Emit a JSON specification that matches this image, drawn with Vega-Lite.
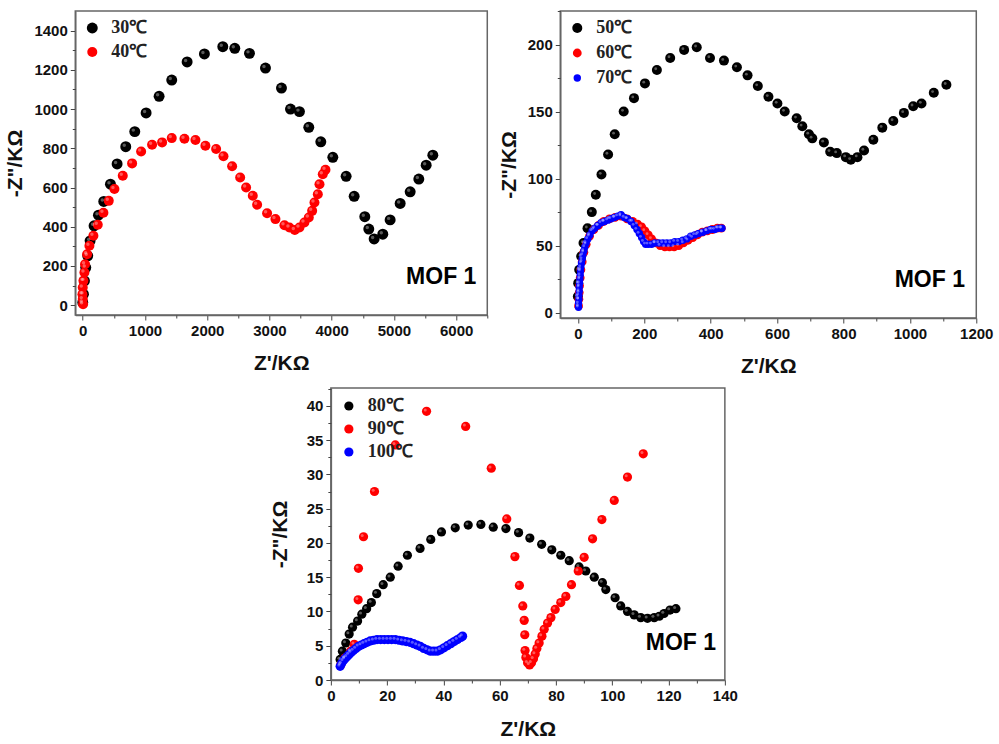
{
  "$schema": "https://vega.github.io/schema/vega-lite/v6.json",
  "padding": {"left": 4, "top": 9, "right": 0, "bottom": 0},
  "background": "white",
  "datasets": {
    "p1": [
      {"series": "30℃", "x": 0, "y": 14}, {"series": "30℃", "x": 11, "y": 56}, {"series": "30℃", "x": 27, "y": 124}, {"series": "30℃", "x": 48, "y": 192}, {"series": "30℃", "x": 80, "y": 252}, {"series": "30℃", "x": 118, "y": 328}, {"series": "30℃", "x": 182, "y": 405}, {"series": "30℃", "x": 252, "y": 459}, {"series": "30℃", "x": 338, "y": 529}, {"series": "30℃", "x": 445, "y": 617}, {"series": "30℃", "x": 552, "y": 720}, {"series": "30℃", "x": 691, "y": 808}, {"series": "30℃", "x": 836, "y": 885}, {"series": "30℃", "x": 1018, "y": 980}, {"series": "30℃", "x": 1227, "y": 1065}, {"series": "30℃", "x": 1430, "y": 1148}, {"series": "30℃", "x": 1677, "y": 1240}, {"series": "30℃", "x": 1955, "y": 1281}, {"series": "30℃", "x": 2250, "y": 1318}, {"series": "30℃", "x": 2443, "y": 1310}, {"series": "30℃", "x": 2679, "y": 1284}, {"series": "30℃", "x": 2936, "y": 1209}, {"series": "30℃", "x": 3193, "y": 1107}, {"series": "30℃", "x": 3338, "y": 1000}, {"series": "30℃", "x": 3482, "y": 987}, {"series": "30℃", "x": 3632, "y": 907}, {"series": "30℃", "x": 3825, "y": 833}, {"series": "30℃", "x": 4018, "y": 754}, {"series": "30℃", "x": 4232, "y": 657}, {"series": "30℃", "x": 4361, "y": 555}, {"series": "30℃", "x": 4532, "y": 451}, {"series": "30℃", "x": 4596, "y": 388}, {"series": "30℃", "x": 4682, "y": 338}, {"series": "30℃", "x": 4821, "y": 362}, {"series": "30℃", "x": 4939, "y": 435}, {"series": "30℃", "x": 5100, "y": 519}, {"series": "30℃", "x": 5261, "y": 578}, {"series": "30℃", "x": 5400, "y": 643}, {"series": "30℃", "x": 5518, "y": 714}, {"series": "30℃", "x": 5625, "y": 765},
      {"series": "40℃", "x": 5, "y": 5}, {"series": "40℃", "x": 0, "y": 31}, {"series": "40℃", "x": -5, "y": 56}, {"series": "40℃", "x": 0, "y": 90}, {"series": "40℃", "x": 11, "y": 124}, {"series": "40℃", "x": 27, "y": 167}, {"series": "40℃", "x": 37, "y": 209}, {"series": "40℃", "x": 70, "y": 260}, {"series": "40℃", "x": 107, "y": 303}, {"series": "40℃", "x": 171, "y": 354}, {"series": "40℃", "x": 241, "y": 410}, {"series": "40℃", "x": 332, "y": 471}, {"series": "40℃", "x": 418, "y": 532}, {"series": "40℃", "x": 509, "y": 592}, {"series": "40℃", "x": 643, "y": 660}, {"series": "40℃", "x": 793, "y": 723}, {"series": "40℃", "x": 938, "y": 784}, {"series": "40℃", "x": 1114, "y": 818}, {"series": "40℃", "x": 1275, "y": 830}, {"series": "40℃", "x": 1430, "y": 852}, {"series": "40℃", "x": 1634, "y": 849}, {"series": "40℃", "x": 1811, "y": 842}, {"series": "40℃", "x": 1971, "y": 813}, {"series": "40℃", "x": 2143, "y": 796}, {"series": "40℃", "x": 2261, "y": 759}, {"series": "40℃", "x": 2400, "y": 708}, {"series": "40℃", "x": 2529, "y": 651}, {"series": "40℃", "x": 2625, "y": 600}, {"series": "40℃", "x": 2732, "y": 558}, {"series": "40℃", "x": 2802, "y": 512}, {"series": "40℃", "x": 2962, "y": 469}, {"series": "40℃", "x": 3096, "y": 439}, {"series": "40℃", "x": 3241, "y": 408}, {"series": "40℃", "x": 3321, "y": 396}, {"series": "40℃", "x": 3407, "y": 383}, {"series": "40℃", "x": 3482, "y": 396}, {"series": "40℃", "x": 3562, "y": 422}, {"series": "40℃", "x": 3632, "y": 447}, {"series": "40℃", "x": 3686, "y": 481}, {"series": "40℃", "x": 3723, "y": 524}, {"series": "40℃", "x": 3777, "y": 566}, {"series": "40℃", "x": 3804, "y": 617}, {"series": "40℃", "x": 3857, "y": 668}, {"series": "40℃", "x": 3900, "y": 691}
    ],
    "p2": [
      {"series": "50℃", "x": 0, "y": 12}, {"series": "50℃", "x": 1, "y": 22}, {"series": "50℃", "x": 4, "y": 32}, {"series": "50℃", "x": 10, "y": 42}, {"series": "50℃", "x": 17, "y": 52}, {"series": "50℃", "x": 29, "y": 63}, {"series": "50℃", "x": 42, "y": 75}, {"series": "50℃", "x": 54, "y": 88}, {"series": "50℃", "x": 71, "y": 103}, {"series": "50℃", "x": 91, "y": 118}, {"series": "50℃", "x": 111, "y": 133}, {"series": "50℃", "x": 138, "y": 150}, {"series": "50℃", "x": 169, "y": 160}, {"series": "50℃", "x": 202, "y": 171}, {"series": "50℃", "x": 238, "y": 181}, {"series": "50℃", "x": 278, "y": 190}, {"series": "50℃", "x": 320, "y": 196}, {"series": "50℃", "x": 358, "y": 198}, {"series": "50℃", "x": 398, "y": 190}, {"series": "50℃", "x": 440, "y": 188}, {"series": "50℃", "x": 479, "y": 183}, {"series": "50℃", "x": 511, "y": 177}, {"series": "50℃", "x": 542, "y": 169}, {"series": "50℃", "x": 574, "y": 161}, {"series": "50℃", "x": 601, "y": 156}, {"series": "50℃", "x": 623, "y": 150}, {"series": "50℃", "x": 659, "y": 145}, {"series": "50℃", "x": 676, "y": 139}, {"series": "50℃", "x": 696, "y": 133}, {"series": "50℃", "x": 706, "y": 130}, {"series": "50℃", "x": 741, "y": 127}, {"series": "50℃", "x": 760, "y": 120}, {"series": "50℃", "x": 780, "y": 119}, {"series": "50℃", "x": 807, "y": 116}, {"series": "50℃", "x": 822, "y": 114}, {"series": "50℃", "x": 842, "y": 116}, {"series": "50℃", "x": 862, "y": 121}, {"series": "50℃", "x": 890, "y": 129}, {"series": "50℃", "x": 917, "y": 138}, {"series": "50℃", "x": 950, "y": 143}, {"series": "50℃", "x": 982, "y": 149}, {"series": "50℃", "x": 1010, "y": 154}, {"series": "50℃", "x": 1035, "y": 156}, {"series": "50℃", "x": 1072, "y": 164}, {"series": "50℃", "x": 1110, "y": 170},
      {"series": "60℃", "x": 2, "y": 5}, {"series": "60℃", "x": 3, "y": 10}, {"series": "60℃", "x": 4, "y": 15}, {"series": "60℃", "x": 5, "y": 20}, {"series": "60℃", "x": 7, "y": 26}, {"series": "60℃", "x": 9, "y": 32}, {"series": "60℃", "x": 13, "y": 38}, {"series": "60℃", "x": 18, "y": 45}, {"series": "60℃", "x": 25, "y": 51}, {"series": "60℃", "x": 35, "y": 57}, {"series": "60℃", "x": 48, "y": 62}, {"series": "60℃", "x": 62, "y": 65}, {"series": "60℃", "x": 78, "y": 68}, {"series": "60℃", "x": 95, "y": 70}, {"series": "60℃", "x": 112, "y": 71}, {"series": "60℃", "x": 130, "y": 72}, {"series": "60℃", "x": 148, "y": 70}, {"series": "60℃", "x": 165, "y": 68}, {"series": "60℃", "x": 180, "y": 66}, {"series": "60℃", "x": 192, "y": 64}, {"series": "60℃", "x": 202, "y": 61}, {"series": "60℃", "x": 212, "y": 58}, {"series": "60℃", "x": 222, "y": 55}, {"series": "60℃", "x": 234, "y": 52}, {"series": "60℃", "x": 248, "y": 50}, {"series": "60℃", "x": 262, "y": 49}, {"series": "60℃", "x": 276, "y": 49}, {"series": "60℃", "x": 290, "y": 49}, {"series": "60℃", "x": 304, "y": 50}, {"series": "60℃", "x": 318, "y": 52}, {"series": "60℃", "x": 332, "y": 54}, {"series": "60℃", "x": 346, "y": 56}, {"series": "60℃", "x": 360, "y": 58}, {"series": "60℃", "x": 375, "y": 60}, {"series": "60℃", "x": 390, "y": 61}, {"series": "60℃", "x": 405, "y": 62}, {"series": "60℃", "x": 420, "y": 63}, {"series": "60℃", "x": 432, "y": 63},
      {"series": "70℃", "x": 2, "y": 4}, {"series": "70℃", "x": 2, "y": 7}, {"series": "70℃", "x": 3, "y": 10}, {"series": "70℃", "x": 3, "y": 13}, {"series": "70℃", "x": 4, "y": 16}, {"series": "70℃", "x": 4, "y": 19}, {"series": "70℃", "x": 5, "y": 22}, {"series": "70℃", "x": 6, "y": 25}, {"series": "70℃", "x": 7, "y": 28}, {"series": "70℃", "x": 8, "y": 31}, {"series": "70℃", "x": 9, "y": 34}, {"series": "70℃", "x": 11, "y": 37}, {"series": "70℃", "x": 13, "y": 40}, {"series": "70℃", "x": 15, "y": 43}, {"series": "70℃", "x": 18, "y": 46}, {"series": "70℃", "x": 21, "y": 49}, {"series": "70℃", "x": 25, "y": 52}, {"series": "70℃", "x": 30, "y": 55}, {"series": "70℃", "x": 36, "y": 58}, {"series": "70℃", "x": 43, "y": 61}, {"series": "70℃", "x": 51, "y": 63}, {"series": "70℃", "x": 60, "y": 65}, {"series": "70℃", "x": 70, "y": 67}, {"series": "70℃", "x": 80, "y": 68}, {"series": "70℃", "x": 90, "y": 69}, {"series": "70℃", "x": 100, "y": 70}, {"series": "70℃", "x": 110, "y": 71}, {"series": "70℃", "x": 120, "y": 72}, {"series": "70℃", "x": 130, "y": 73}, {"series": "70℃", "x": 140, "y": 71}, {"series": "70℃", "x": 150, "y": 70}, {"series": "70℃", "x": 160, "y": 68}, {"series": "70℃", "x": 170, "y": 65}, {"series": "70℃", "x": 178, "y": 62}, {"series": "70℃", "x": 185, "y": 59}, {"series": "70℃", "x": 192, "y": 56}, {"series": "70℃", "x": 198, "y": 53}, {"series": "70℃", "x": 204, "y": 51}, {"series": "70℃", "x": 212, "y": 51}, {"series": "70℃", "x": 222, "y": 51}, {"series": "70℃", "x": 232, "y": 52}, {"series": "70℃", "x": 244, "y": 52}, {"series": "70℃", "x": 256, "y": 52}, {"series": "70℃", "x": 268, "y": 52}, {"series": "70℃", "x": 280, "y": 52}, {"series": "70℃", "x": 292, "y": 53}, {"series": "70℃", "x": 304, "y": 53}, {"series": "70℃", "x": 316, "y": 54}, {"series": "70℃", "x": 328, "y": 55}, {"series": "70℃", "x": 340, "y": 57}, {"series": "70℃", "x": 352, "y": 58}, {"series": "70℃", "x": 364, "y": 59}, {"series": "70℃", "x": 376, "y": 60}, {"series": "70℃", "x": 388, "y": 61}, {"series": "70℃", "x": 400, "y": 62}, {"series": "70℃", "x": 412, "y": 62}, {"series": "70℃", "x": 424, "y": 63}, {"series": "70℃", "x": 434, "y": 63}
    ],
    "p3": [
      {"series": "80℃", "x": 3.3, "y": 3.0}, {"series": "80℃", "x": 4.1, "y": 4.2}, {"series": "80℃", "x": 5.3, "y": 5.4}, {"series": "80℃", "x": 6.5, "y": 6.7}, {"series": "80℃", "x": 7.7, "y": 7.7}, {"series": "80℃", "x": 9.5, "y": 8.6}, {"series": "80℃", "x": 11.0, "y": 9.6}, {"series": "80℃", "x": 12.7, "y": 10.4}, {"series": "80℃", "x": 14.4, "y": 11.3}, {"series": "80℃", "x": 16.3, "y": 12.6}, {"series": "80℃", "x": 18.6, "y": 13.9}, {"series": "80℃", "x": 21.1, "y": 15.0}, {"series": "80℃", "x": 23.9, "y": 16.6}, {"series": "80℃", "x": 27.2, "y": 18.2}, {"series": "80℃", "x": 31.7, "y": 19.2}, {"series": "80℃", "x": 35.5, "y": 20.5}, {"series": "80℃", "x": 39.3, "y": 21.6}, {"series": "80℃", "x": 44.2, "y": 22.2}, {"series": "80℃", "x": 48.8, "y": 22.6}, {"series": "80℃", "x": 53.3, "y": 22.7}, {"series": "80℃", "x": 57.7, "y": 22.3}, {"series": "80℃", "x": 62.2, "y": 22.1}, {"series": "80℃", "x": 66.7, "y": 21.5}, {"series": "80℃", "x": 70.7, "y": 20.7}, {"series": "80℃", "x": 74.9, "y": 19.8}, {"series": "80℃", "x": 78.5, "y": 19.0}, {"series": "80℃", "x": 81.7, "y": 18.2}, {"series": "80℃", "x": 84.7, "y": 17.4}, {"series": "80℃", "x": 88.2, "y": 16.5}, {"series": "80℃", "x": 90.6, "y": 15.9}, {"series": "80℃", "x": 93.6, "y": 15.0}, {"series": "80℃", "x": 96.5, "y": 14.2}, {"series": "80℃", "x": 97.7, "y": 13.2}, {"series": "80℃", "x": 101.0, "y": 12.0}, {"series": "80℃", "x": 103.0, "y": 10.8}, {"series": "80℃", "x": 105.4, "y": 10.0}, {"series": "80℃", "x": 107.8, "y": 9.5}, {"series": "80℃", "x": 110.1, "y": 9.1}, {"series": "80℃", "x": 112.5, "y": 9.0}, {"series": "80℃", "x": 114.9, "y": 9.1}, {"series": "80℃", "x": 116.7, "y": 9.3}, {"series": "80℃", "x": 118.4, "y": 9.7}, {"series": "80℃", "x": 120.5, "y": 10.2}, {"series": "80℃", "x": 122.6, "y": 10.4},
      {"series": "90℃", "x": 3.5, "y": 2.2}, {"series": "90℃", "x": 5.0, "y": 3.2}, {"series": "90℃", "x": 7.0, "y": 4.2}, {"series": "90℃", "x": 8.3, "y": 5.2}, {"series": "90℃", "x": 9.7, "y": 11.7}, {"series": "90℃", "x": 9.8, "y": 16.3}, {"series": "90℃", "x": 11.6, "y": 20.9}, {"series": "90℃", "x": 15.5, "y": 27.5}, {"series": "90℃", "x": 22.9, "y": 34.3}, {"series": "90℃", "x": 34.0, "y": 39.2}, {"series": "90℃", "x": 47.9, "y": 37.0}, {"series": "90℃", "x": 57.0, "y": 30.9}, {"series": "90℃", "x": 62.5, "y": 23.5}, {"series": "90℃", "x": 65.4, "y": 18.0}, {"series": "90℃", "x": 67.0, "y": 13.8}, {"series": "90℃", "x": 68.2, "y": 10.8}, {"series": "90℃", "x": 68.7, "y": 8.7}, {"series": "90℃", "x": 68.9, "y": 6.6}, {"series": "90℃", "x": 69.0, "y": 4.3}, {"series": "90℃", "x": 69.3, "y": 3.3}, {"series": "90℃", "x": 69.9, "y": 2.5}, {"series": "90℃", "x": 70.6, "y": 2.2}, {"series": "90℃", "x": 71.3, "y": 2.5}, {"series": "90℃", "x": 72.0, "y": 3.1}, {"series": "90℃", "x": 72.6, "y": 3.8}, {"series": "90℃", "x": 73.2, "y": 4.6}, {"series": "90℃", "x": 74.0, "y": 5.4}, {"series": "90℃", "x": 75.0, "y": 6.4}, {"series": "90℃", "x": 75.8, "y": 7.4}, {"series": "90℃", "x": 77.0, "y": 8.3}, {"series": "90℃", "x": 78.2, "y": 9.1}, {"series": "90℃", "x": 79.7, "y": 10.3}, {"series": "90℃", "x": 81.7, "y": 11.3}, {"series": "90℃", "x": 83.5, "y": 12.2}, {"series": "90℃", "x": 85.5, "y": 13.9}, {"series": "90℃", "x": 87.9, "y": 15.9}, {"series": "90℃", "x": 90.0, "y": 17.9}, {"series": "90℃", "x": 93.0, "y": 20.6}, {"series": "90℃", "x": 96.3, "y": 23.4}, {"series": "90℃", "x": 100.7, "y": 26.2}, {"series": "90℃", "x": 105.4, "y": 29.6}, {"series": "90℃", "x": 111.0, "y": 33.0},
      {"series": "100℃", "x": 3.3, "y": 2.0}, {"series": "100℃", "x": 3.8, "y": 2.4}, {"series": "100℃", "x": 4.4, "y": 2.8}, {"series": "100℃", "x": 5.0, "y": 3.1}, {"series": "100℃", "x": 5.7, "y": 3.4}, {"series": "100℃", "x": 6.4, "y": 3.7}, {"series": "100℃", "x": 7.2, "y": 4.0}, {"series": "100℃", "x": 8.0, "y": 4.3}, {"series": "100℃", "x": 8.9, "y": 4.6}, {"series": "100℃", "x": 9.8, "y": 4.9}, {"series": "100℃", "x": 10.8, "y": 5.1}, {"series": "100℃", "x": 11.8, "y": 5.3}, {"series": "100℃", "x": 12.9, "y": 5.5}, {"series": "100℃", "x": 14.0, "y": 5.7}, {"series": "100℃", "x": 15.2, "y": 5.8}, {"series": "100℃", "x": 16.4, "y": 5.9}, {"series": "100℃", "x": 17.7, "y": 5.9}, {"series": "100℃", "x": 19.0, "y": 5.9}, {"series": "100℃", "x": 20.3, "y": 5.9}, {"series": "100℃", "x": 21.6, "y": 5.9}, {"series": "100℃", "x": 22.9, "y": 5.9}, {"series": "100℃", "x": 24.2, "y": 5.8}, {"series": "100℃", "x": 25.5, "y": 5.7}, {"series": "100℃", "x": 26.8, "y": 5.6}, {"series": "100℃", "x": 28.1, "y": 5.5}, {"series": "100℃", "x": 29.4, "y": 5.3}, {"series": "100℃", "x": 30.6, "y": 5.1}, {"series": "100℃", "x": 31.8, "y": 4.9}, {"series": "100℃", "x": 33.0, "y": 4.6}, {"series": "100℃", "x": 34.2, "y": 4.4}, {"series": "100℃", "x": 35.4, "y": 4.2}, {"series": "100℃", "x": 36.6, "y": 4.2}, {"series": "100℃", "x": 37.8, "y": 4.2}, {"series": "100℃", "x": 39.0, "y": 4.4}, {"series": "100℃", "x": 40.2, "y": 4.7}, {"series": "100℃", "x": 41.4, "y": 5.0}, {"series": "100℃", "x": 42.6, "y": 5.3}, {"series": "100℃", "x": 43.8, "y": 5.6}, {"series": "100℃", "x": 45.0, "y": 5.9}, {"series": "100℃", "x": 46.2, "y": 6.2}, {"series": "100℃", "x": 46.8, "y": 6.4}
    ]
  },
  "vconcat": [
    {
      "hconcat": [
        {
          "width": 412, "height": 304,
          "data": {"name": "p1"},
          "resolve": {"axis": {"x": "independent", "y": "independent"}},
          "layer": [
            {
              "mark": {"type": "point", "filled": true, "opacity": 1},
              "encoding": {
                "x": {"field": "x", "type": "quantitative", "scale": {"domain": [-120, 6500], "nice": false, "zero": false}, "axis": {"values": [0, 1000, 2000, 3000, 4000, 5000, 6000], "title": "Z'/KΩ", "titlePadding": 14, "orient": "bottom"}},
                "y": {"field": "y", "type": "quantitative", "scale": {"domain": [-50, 1500], "nice": false, "zero": false}, "axis": {"values": [0, 200, 400, 600, 800, 1000, 1200, 1400], "title": "-Z\"/KΩ", "titlePadding": 8, "orient": "left"}},
                "color": {"field": "series", "type": "nominal", "scale": {"domain": ["30℃", "40℃"], "range": ["#000000", "#ff0000"]}, "legend": {"title": null, "orient": "top-left", "offset": 6}},
                "size": {"field": "series", "type": "ordinal", "scale": {"domain": ["30℃", "40℃"], "range": [120, 100]}, "legend": null}
              }
            },
            {
              "mark": {"type": "point", "filled": true, "color": "white", "opacity": 0.35, "size": 12, "xOffset": -1.5, "yOffset": -1.5},
              "encoding": {
                "x": {"field": "x", "type": "quantitative", "axis": {"orient": "bottom", "values": [500, 1500, 2500, 3500, 4500, 5500, 6500], "labels": false, "title": null, "domain": false, "tickSize": 3}},
                "y": {"field": "y", "type": "quantitative", "axis": {"orient": "left", "values": [100, 300, 500, 700, 900, 1100, 1300], "labels": false, "title": null, "domain": false, "tickSize": 3}}
              }
            },
            {
              "data": {"values": [{}]},
              "mark": {"type": "text", "font": "Liberation Sans", "fontWeight": "bold", "fontSize": 23, "color": "black"},
              "encoding": {"x": {"datum": 5760, "axis": null}, "y": {"datum": 145, "axis": null}, "text": {"value": "MOF 1"}}
            }
          ]
        },
        {
          "width": 416, "height": 307,
          "data": {"name": "p2"},
          "resolve": {"axis": {"x": "independent", "y": "independent"}},
          "layer": [
            {
              "mark": {"type": "point", "filled": true, "opacity": 1},
              "encoding": {
                "x": {"field": "x", "type": "quantitative", "scale": {"domain": [-53, 1200], "nice": false, "zero": false}, "axis": {"values": [0, 200, 400, 600, 800, 1000, 1200], "title": "Z'/KΩ", "titlePadding": 14, "orient": "bottom"}},
                "y": {"field": "y", "type": "quantitative", "scale": {"domain": [-4, 225], "nice": false, "zero": false}, "axis": {"values": [0, 50, 100, 150, 200], "title": "-Z\"/KΩ", "titlePadding": 8, "orient": "left"}},
                "color": {"field": "series", "type": "nominal", "scale": {"domain": ["50℃", "60℃", "70℃"], "range": ["#000000", "#ff0000", "#0000ff"]}, "legend": {"title": null, "orient": "top-left", "offset": 6, "rowPadding": 7}},
                "size": {"field": "series", "type": "ordinal", "scale": {"domain": ["50℃", "60℃", "70℃"], "range": [100, 55, 45]}, "legend": null}
              }
            },
            {
              "mark": {"type": "point", "filled": true, "color": "white", "opacity": 0.35, "size": 8, "xOffset": -1.2, "yOffset": -1.2},
              "encoding": {
                "x": {"field": "x", "type": "quantitative", "axis": {"orient": "bottom", "values": [100, 300, 500, 700, 900, 1100], "labels": false, "title": null, "domain": false, "tickSize": 3}},
                "y": {"field": "y", "type": "quantitative", "axis": {"orient": "left", "values": [25, 75, 125, 175, 225], "labels": false, "title": null, "domain": false, "tickSize": 3}}
              }
            },
            {
              "data": {"values": [{}]},
              "mark": {"type": "text", "font": "Liberation Sans", "fontWeight": "bold", "fontSize": 23, "color": "black"},
              "encoding": {"x": {"datum": 1060, "axis": null}, "y": {"datum": 24, "axis": null}, "text": {"value": "MOF 1"}}
            }
          ]
        }
      ],
      "spacing": 8,
      "resolve": {"scale": {"color": "independent", "size": "independent", "x": "independent", "y": "independent"}, "legend": {"color": "independent"}}
    },
    {
      "width": 394, "height": 292,
      "data": {"name": "p3"},
      "resolve": {"axis": {"x": "independent", "y": "independent"}},
      "layer": [
        {
          "mark": {"type": "point", "filled": true, "opacity": 1},
          "encoding": {
            "x": {"field": "x", "type": "quantitative", "scale": {"domain": [0, 140], "nice": false, "zero": false}, "axis": {"values": [0, 20, 40, 60, 80, 100, 120, 140], "title": "Z'/KΩ", "titlePadding": 15, "orient": "bottom"}},
            "y": {"field": "y", "type": "quantitative", "scale": {"domain": [0, 42.6], "nice": false, "zero": false}, "axis": {"values": [0, 5, 10, 15, 20, 25, 30, 35, 40], "title": "-Z\"/KΩ", "titlePadding": 16, "orient": "left", "labelOverlap": false}},
            "color": {"field": "series", "type": "nominal", "scale": {"domain": ["80℃", "90℃", "100℃"], "range": ["#000000", "#ff0000", "#0000ff"]}, "legend": {"title": null, "orient": "top-left", "offset": 7, "rowPadding": 5}},
            "size": {"field": "series", "type": "ordinal", "scale": {"domain": ["80℃", "90℃", "100℃"], "range": [85, 85, 45]}, "legend": null}
          }
        },
        {
          "mark": {"type": "point", "filled": true, "color": "white", "opacity": 0.35, "size": 9, "xOffset": -1.3, "yOffset": -1.3},
          "encoding": {
            "x": {"field": "x", "type": "quantitative", "axis": {"orient": "bottom", "values": [10, 30, 50, 70, 90, 110, 130], "labels": false, "title": null, "domain": false, "tickSize": 3}},
            "y": {"field": "y", "type": "quantitative", "axis": {"orient": "left", "values": [2.5, 7.5, 12.5, 17.5, 22.5, 27.5, 32.5, 37.5, 42.5], "labels": false, "title": null, "domain": false, "tickSize": 3}}
          }
        },
        {
          "data": {"values": [{}]},
          "mark": {"type": "text", "font": "Liberation Sans", "fontWeight": "bold", "fontSize": 23, "color": "black"},
          "encoding": {"x": {"datum": 124.4, "axis": null}, "y": {"datum": 5.4, "axis": null}, "text": {"value": "MOF 1"}}
        }
      ]
    }
  ],
  "spacing": 10,
  "center": true,
  "resolve": {"scale": {"color": "independent", "size": "independent", "x": "independent", "y": "independent"}, "legend": {"color": "independent"}},
  "config": {
    "view": {"stroke": "#666666", "strokeWidth": 1.5},
    "axis": {
      "grid": false, "format": "d", "labelOverlap": false, "labelFlush": false,
      "labelFont": "Liberation Sans", "labelFontWeight": "bold", "labelFontSize": 15, "labelColor": "#111111",
      "titleFont": "Liberation Sans", "titleFontWeight": "bold", "titleFontSize": 21, "titleColor": "#111111",
      "domainColor": "#666666", "domainWidth": 1.5, "tickColor": "#444444", "tickSize": 5, "labelPadding": 3
    },
    "legend": {
      "labelFont": "Liberation Serif", "labelFontSize": 18, "labelFontWeight": "bold", "labelColor": "#222222",
      "symbolSize": 110, "symbolType": "circle", "rowPadding": 6, "labelOffset": 10, "padding": 2
    },
    "point": {"strokeWidth": 0}
  }
}
